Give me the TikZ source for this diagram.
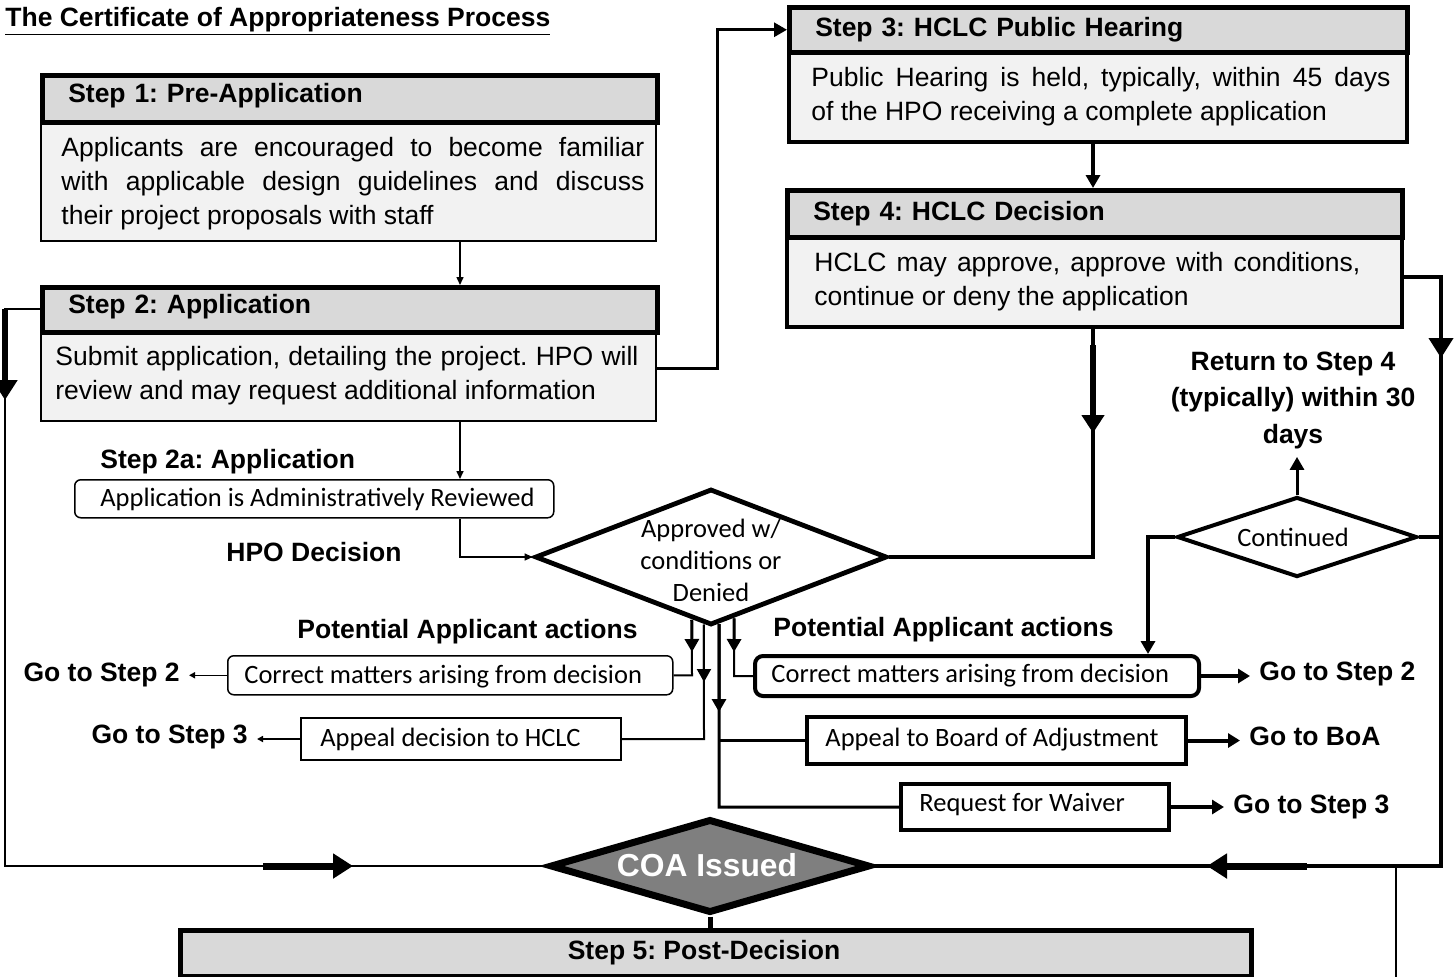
\documentclass[tikz,border=0pt]{standalone}
\usepackage{fontspec}
\setmainfont{Liberation Sans}
\newfontfamily\calfont{Carlito}
\usetikzlibrary{arrows.meta,shapes.geometric,calc}
\definecolor{hgray}{HTML}{D9D9D9}
\definecolor{bgray}{HTML}{F2F2F2}
\definecolor{coagray}{HTML}{7F7F7F}
\newcommand{\fsz}{\fontsize{13.25pt}{17pt}\selectfont\frenchspacing}
\begin{document}
\frenchspacing
\begin{tikzpicture}[x=0.5pt,y=-0.5pt,
 every node/.style={font=\fsz},
 hdr/.style={draw, line width=2.25pt, fill=hgray, inner sep=0pt, anchor=north west, align=left, font=\fsz\bfseries},
 bod/.style={draw, fill=bgray, inner sep=0pt, anchor=north west},
 btxt/.style={anchor=west, align=justify, inner sep=0pt},
 lbl/.style={font=\fsz\bfseries, inner xsep=4.5pt, inner ysep=0pt},
 cbox/.style={draw, fill=white, inner sep=0pt, anchor=north west},
 ctxt/.style={anchor=west, inner sep=0pt, font=\fsz\calfont},
 dia/.style={draw, diamond, inner sep=0pt, fill=white},
 lnA/.style={line width=0.75pt},
 lnB/.style={line width=1pt},
 lnC/.style={line width=1.5pt},
 lnD/.style={line width=2pt},
 tipS/.style={-{Triangle[length=4pt,width=3.5pt]}},
 tipM/.style={-{Triangle[length=6.5pt,width=7pt]}},
 tipL/.style={-{Triangle[length=10pt,width=12pt]}},
 tipG/.style={-{Triangle[length=6pt,width=7pt]}},
 tipT/.style={-{Triangle[length=3pt,width=3pt]}}
]
\useasboundingbox (0,0) rectangle (1455,976);
\clip (0,0) rectangle (1455,976);

% title
\node[anchor=base west, inner sep=0pt, font=\fsz\bfseries] (title) at (5,26) {\underline{The Certificate of Appropriateness Process}};

% Step 1
\node[bod, line width=1pt, minimum width=307.5pt, minimum height=60pt] (s1b) at (40,120) {};
\node[hdr, minimum width=307.5pt, minimum height=23.5pt, text width=281.5pt, inner xsep=13pt, text depth=6pt] (s1h) at (40,73) {Step 1: Pre-Application};
\node[btxt, text width=291.5pt] (s1t) at (61,184) {Applicants are encouraged to become familiar\linebreak with applicable design guidelines and discuss\linebreak their project proposals with staff};

% Step 2
\node[bod, line width=1pt, minimum width=307.5pt, minimum height=45pt] (s2b) at (40,330) {};
\node[hdr, minimum width=307.5pt, minimum height=22.5pt, text width=281.5pt, inner xsep=13pt, text depth=6pt] (s2h) at (40,285) {Step 2: Application};
\node[btxt, text width=291.5pt] (s2t) at (55,376) {Submit application, detailing the project. HPO will\linebreak review and may request additional information};

% Step 3
\node[bod, line width=2pt, minimum width=309pt, minimum height=45pt] (s3b) at (787,50) {};
\node[hdr, minimum width=309pt, minimum height=22.5pt, text width=283pt, inner xsep=13pt] (s3h) at (787,5) {Step 3: HCLC Public Hearing};
\node[btxt, text width=289.5pt] (s3t) at (811,97) {Public Hearing is held, typically, within 45 days\linebreak of the HPO receiving a complete application};

% Step 4
\node[bod, line width=2pt, minimum width=307.5pt, minimum height=45pt] (s4b) at (785,235) {};
\node[hdr, minimum width=307.5pt, minimum height=23.5pt, text width=281.5pt, inner xsep=13pt] (s4h) at (785,188) {Step 4: HCLC Decision};
\node[btxt, text width=273pt] (s4t) at (814,282) {HCLC may approve, approve with conditions,\linebreak continue or deny the application};

% Step 5
\node[hdr, line width=2.5pt, minimum width=535.5pt, minimum height=23pt] (s5h) at (178,928) {};
\node[font=\fsz\bfseries, inner sep=0pt] (s5t) at (704,953) {Step 5: Post-Decision};

% Step 2a
\node[lbl, anchor=west] (s2al) at (91,462) {Step 2a: Application};
\node[cbox, rounded corners=3pt, line width=0.75pt, minimum width=239.5pt, minimum height=19pt] (rev) at (74,479) {};
\node[ctxt] (revt) at (100,499) {Application is Administratively Reviewed};
\node[lbl, anchor=west] (hpol) at (217,552) {HPO Decision};

% decision diamond
\node[dia, line width=2.4pt, minimum width=176pt, minimum height=68pt] (d1) at (711,557) {};
\node[inner sep=0pt, align=center, font=\fontsize{13.25pt}{16pt}\selectfont\calfont] (d1t) at (711,560) {Approved w/\\conditions or\\Denied};

% return / continued
\node[lbl, align=center, font=\fontsize{13.25pt}{18.25pt}\selectfont\bfseries] (ret) at (1293,400) {Return to Step 4\\(typically) within 30\\days};
\node[dia, line width=2pt, minimum width=120pt, minimum height=40pt] (d2) at (1297,537) {};
\node[ctxt, anchor=center] (d2t) at (1293,537) {Continued};

% potential actions labels
\node[lbl, anchor=west] (pal) at (288,632) {Potential Applicant actions};
\node[lbl, anchor=west] (par) at (764,630) {Potential Applicant actions};

% left action boxes
\node[cbox, rounded corners=3pt, line width=0.75pt, minimum width=222.5pt, minimum height=19.5pt] (c1l) at (227,655) {};
\node[ctxt] (c1lt) at (244,677) {Correct matters arising from decision};
\node[cbox, line width=1pt, minimum width=160pt, minimum height=21pt] (ahc) at (300,717) {};
\node[ctxt] (ahct) at (320,739) {Appeal decision to HCLC};
\node[lbl, anchor=east] (g2l) at (189,675) {Go to Step 2};
\node[lbl, anchor=east] (g3l) at (257,737) {Go to Step 3};

% right action boxes
\node[cbox, rounded corners=4pt, line width=2pt, minimum width=222pt, minimum height=20pt] (c1r) at (753,654) {};
\node[ctxt] (c1rt) at (771,676) {Correct matters arising from decision};
\node[cbox, line width=2pt, minimum width=189.5pt, minimum height=23.5pt] (boa) at (805,715) {};
\node[ctxt] (boat) at (825,740) {Appeal to Board of Adjustment};
\node[cbox, line width=2pt, minimum width=134pt, minimum height=23pt] (wai) at (899,782) {};
\node[ctxt] (wavt) at (919,804) {Request for Waiver};
\node[lbl, anchor=west] (g2r) at (1250,674) {Go to Step 2};
\node[lbl, anchor=west] (gboa) at (1240,736) {Go to BoA};
\node[lbl, anchor=west] (g3r) at (1224,807) {Go to Step 3};

% COA
\node[dia, line width=3.5pt, fill=coagray, minimum width=160pt, minimum height=47pt] (coa) at (710,866) {};
\node[inner sep=0pt, text=white, font=\fontsize{15.9pt}{18pt}\selectfont\bfseries] (coat) at (707,865) {COA Issued};

% connectors
\draw[lnA, tipS] (460,0 |- s1b.south) -- (460,0 |- s2h.north);
\draw[lnC, tipM] (s2b.east |- 0,368) -- (717,368) |- (s3h.west);
\draw[lnD, tipM] (1093,0 |- s3b.south) -- (1093,0 |- s4h.north);
\draw[lnD] (1093,0 |- s4b.south) |- (d1.east);
\draw[lnA, tipS] (460,0 |- s2b.south) -- (460,0 |- rev.north);
\draw[lnA, tipS] (460,0 |- rev.south) |- (d1.west);

% left loop
\draw[lnB] (s2h.west |- 0,309) -- (5,309) -- (5,0 |- coa.west) -- (coa.west);
% right loop
\draw[lnD] (s4b.east |- 0,277) -- (1441,277) -- (1441,0 |- coa.east) -- (coa.east);
% COA to step 5
\draw[line width=2.5pt] (coa.south) -- (coa.south |- s5h.north);
\coordinate (rbt) at (1396,866);
\coordinate (rbb) at (1396,980);
\draw[lnB] (rbt) -- (rbb);

% continued
\draw[lnD] (d2.east) -- (1441,0 |- d2.east);
\draw[lnD, tipM] (d2.west) -- (1148,0 |- d2.west) -- (1148,0 |- c1r.north);
\draw[lnC, tipM, shorten >=4pt] (d2.north) -- (d2.north |- ret.south);

% decision outcomes
\coordinate (p1) at ($(d1.south)!0.108!(d1.west)$);
\coordinate (p2) at ($(d1.south)!0.04!(d1.west)$);
\coordinate (p3) at ($(d1.south)!0.045!(d1.east)$);
\coordinate (p4) at ($(d1.south)!0.13!(d1.east)$);
\coordinate (q1) at (692,652);
\coordinate (q2) at (704,682);
\coordinate (q3) at (719,712);
\coordinate (q4) at (734,652);
\draw[lnB] (p1) -- (692,0 |- c1l.east) -- (c1l.east);
\draw[lnC, tipM] (p1) -- (q1);
\draw[lnB] (p2) -- (704,0 |- ahc.east) -- (ahc.east);
\draw[lnB, tipM] (p2) -- (q2);
\draw[lnC] (p3) -- (719,0 |- wai.west) -- (wai.west);
\draw[lnC] (719,0 |- boa.west) -- (boa.west);
\draw[lnC, tipM] (p3) -- (q3);
\draw[lnB] (p4) -- (734,0 |- c1r.west) -- (c1r.west);
\draw[lnC, tipM] (p4) -- (q4);

% go-to arrows
\draw[lnA, tipT] (c1l.west) -- (c1l.west -| g2l.east);
\draw[lnA, tipT] (ahc.west) -- (ahc.west -| g3l.east);
\draw[lnD, tipG] (c1r.east) -- (c1r.east -| g2r.west);
\draw[lnD, tipG] (boa.east) -- (boa.east -| gboa.west);
\draw[lnD, tipG] (wai.east) -- (wai.east -| g3r.west);

% mid-line arrow markers
\coordinate (mA1) at (5,309);
\coordinate (mA2) at (5,400);
\draw[line width=3pt, tipL] (mA1) -- (mA2);
\coordinate (mB1) at (263,866);
\coordinate (mB2) at (353,866);
\draw[line width=3.5pt, tipL] (mB1) -- (mB2);
\coordinate (mC1) at (1441,300);
\coordinate (mC2) at (1441,358);
\draw[lnD, tipL] (mC1) -- (mC2);
\coordinate (mD1) at (1307,866);
\coordinate (mD2) at (1207,866);
\draw[line width=3.5pt, tipL] (mD1) -- (mD2);
\coordinate (mE1) at (1093,345);
\coordinate (mE2) at (1093,433);
\draw[line width=3pt, -{Triangle[length=9pt,width=11pt]}] (mE1) -- (mE2);
\end{tikzpicture}
\end{document}
